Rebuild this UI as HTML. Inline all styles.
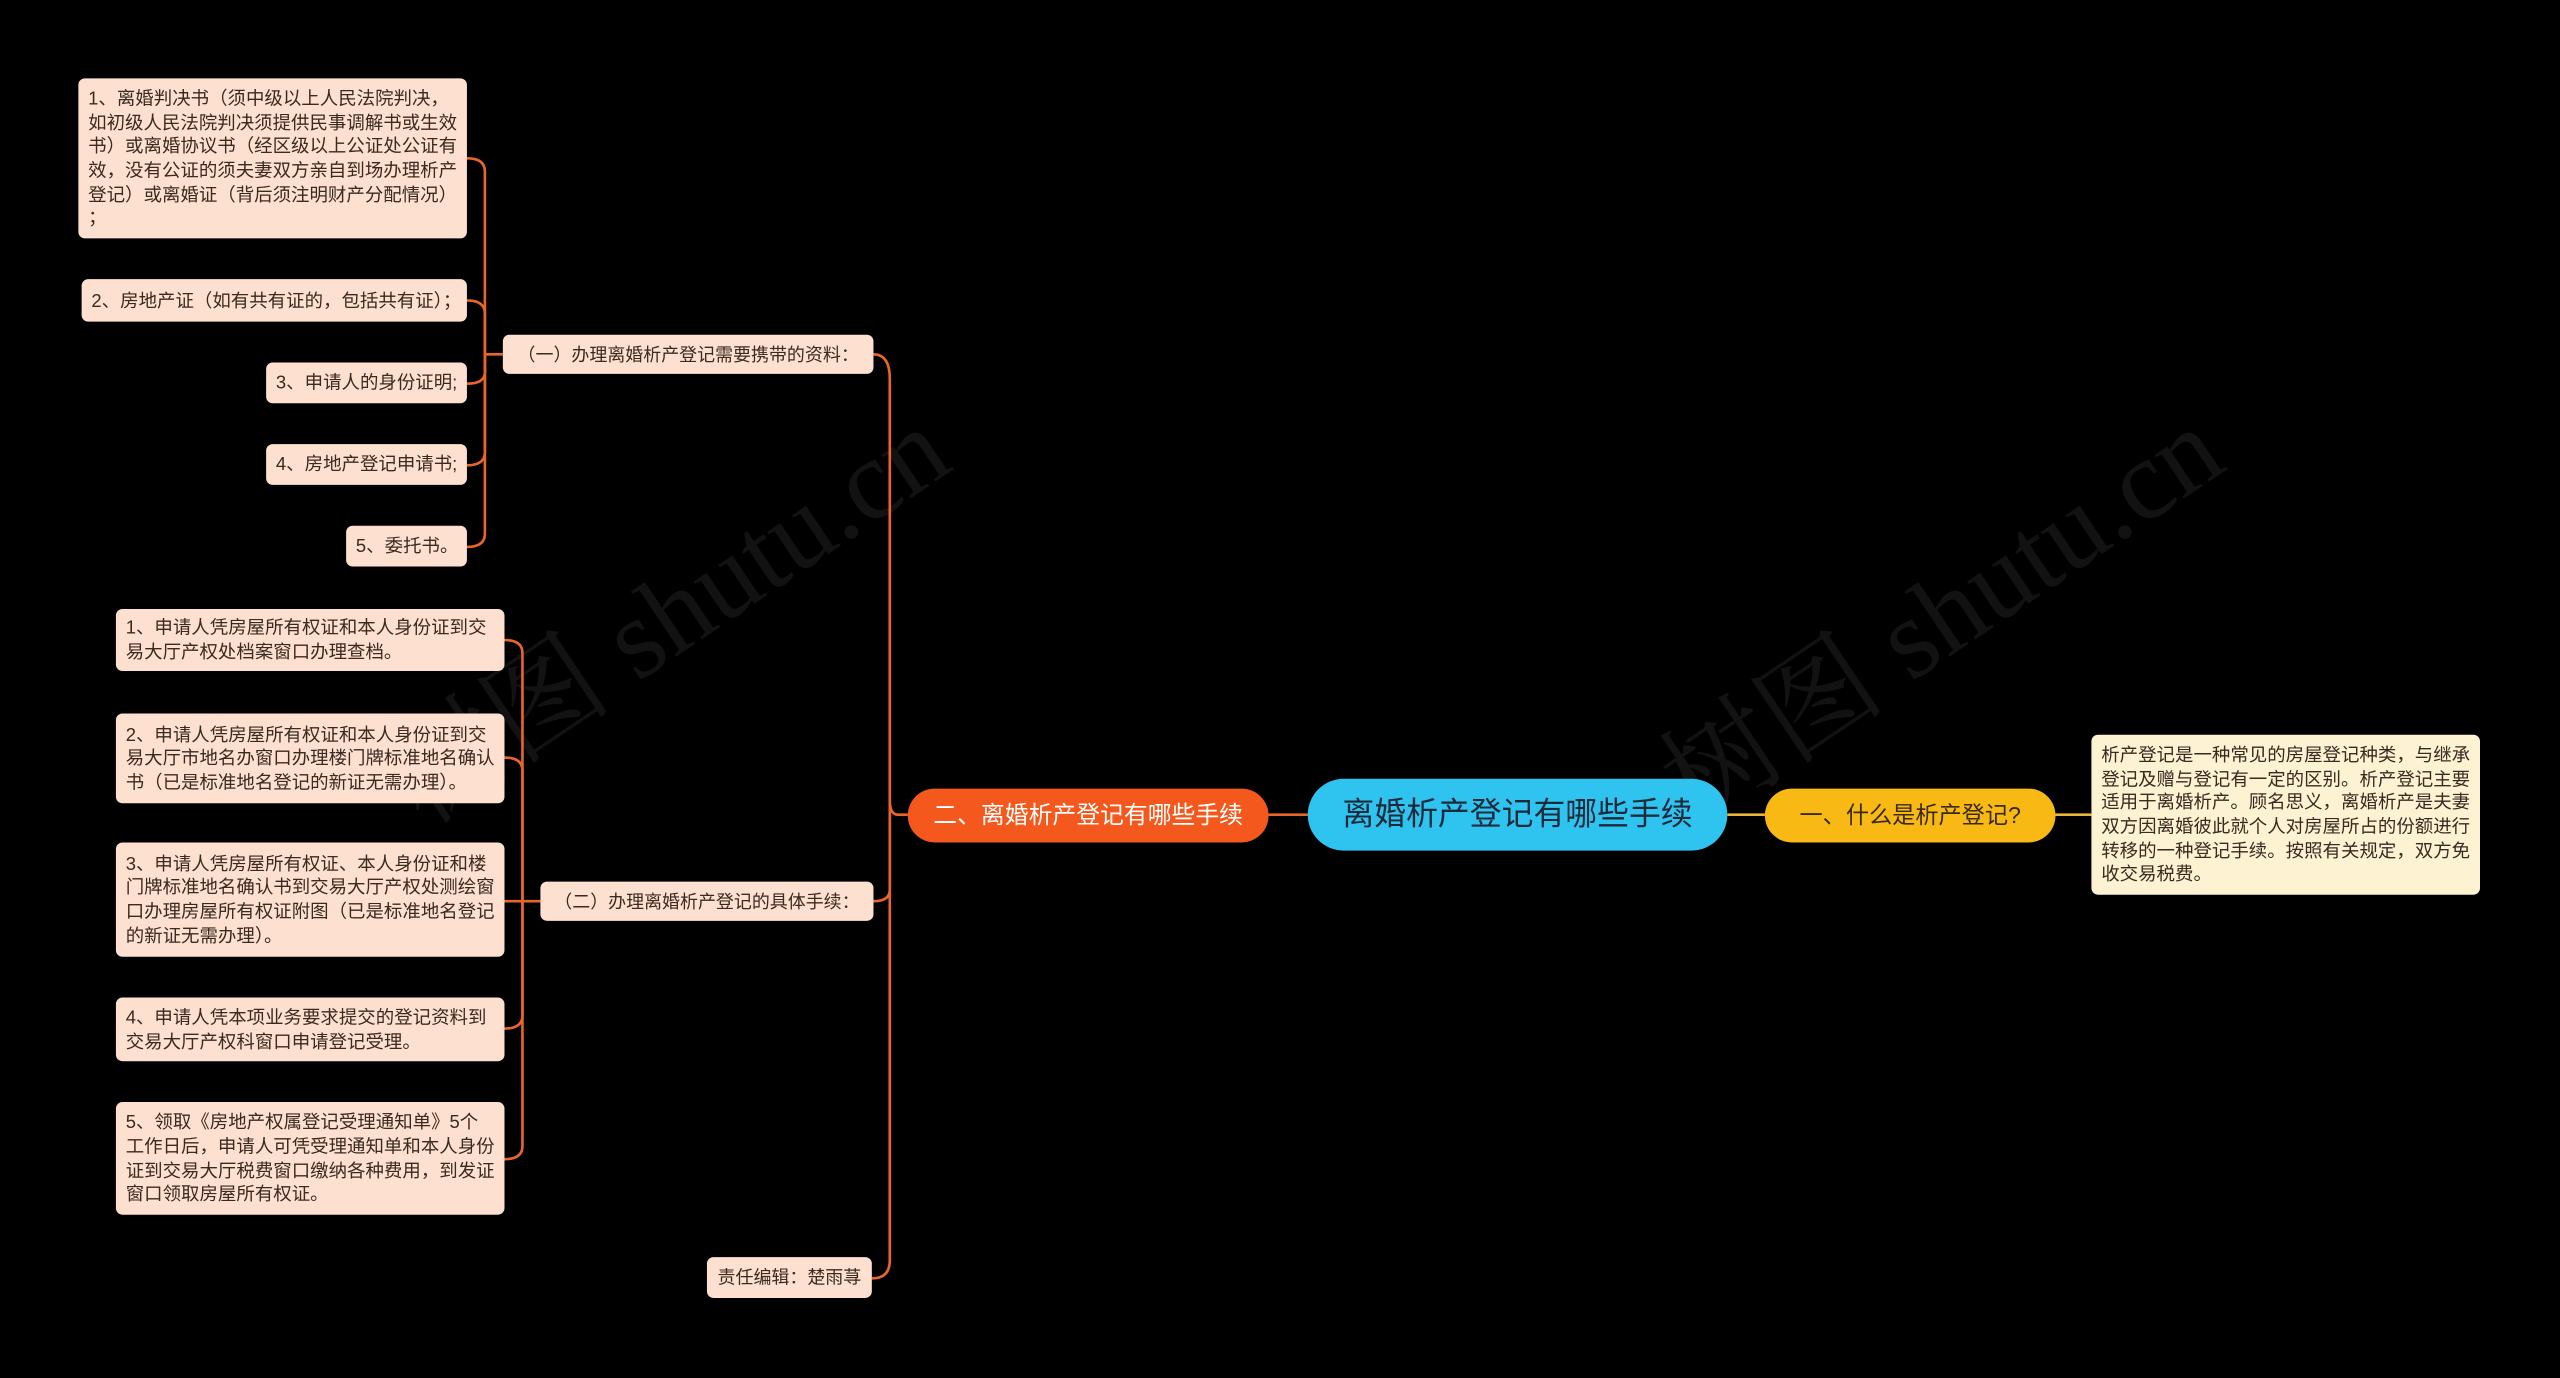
<!DOCTYPE html>
<html><head><meta charset="utf-8"><style>
html,body{margin:0;padding:0;background:#000;width:2560px;height:1378px;overflow:hidden}
#w{position:absolute;left:0;top:0;width:1568px;height:844px;overflow:hidden;transform:scale(1.632653);transform-origin:0 0;font-family:"Liberation Sans","Noto Sans CJK SC",sans-serif}
.b{position:absolute;box-sizing:border-box;background:#fde0cf;color:#3a2a20;font-size:11.3px;line-height:14.6px;border-radius:4px;padding:2px 6px 0 6px;white-space:nowrap;display:flex;align-items:center}
.r{border-radius:22px;justify-content:center;padding-top:1px}
svg{position:absolute;left:0;top:0}
.wm{position:absolute;color:#121212;font-size:70px;font-family:"Liberation Serif","Noto Serif CJK SC",serif;white-space:nowrap;transform:rotate(-34deg);transform-origin:0 0}
</style></head><body><div id="w">
<div class="wm" style="left:215px;top:440px">树图 shutu.cn</div>
<div class="wm" style="left:995px;top:440px">树图 shutu.cn</div>
<svg width="1568" height="844" fill="none">
<g stroke="#e8662a" stroke-width="1.6">
<path d="M556,499 H550 Q545,499 545,490 V232 Q545,217 535,217"/>
<path d="M545,490 V545 Q545,552 535,552"/>
<path d="M545,499 V772 Q545,783 534,783"/>
<path d="M777,499 H801"/>
<g>
<path d="M308,217 H297"/>
<path d="M297,217 V105 Q297,97 286,97"/>
<path d="M297,217 V192 Q297,184 286,184"/>
<path d="M297,217 V228 Q297,235 286,235"/>
<path d="M297,217 V277 Q297,285 286,285"/>
<path d="M297,217 V327 Q297,335 286,335"/>
</g>
<g>
<path d="M331,552 H320"/>
<path d="M320,552 V400 Q320,392 309,392"/>
<path d="M320,552 V472 Q320,464 309,464"/>
<path d="M320,552 H309"/>
<path d="M320,552 V622 Q320,630 309,630"/>
<path d="M320,552 V702 Q320,710 309,710"/>
</g>
</g>
<g stroke="#e8b43a" stroke-width="1.6">
<path d="M1058,499 H1081"/><path d="M1259,499 H1281"/>
</g>
</svg>

<div class="b r" style="left:801px;top:477px;width:257px;height:44px;background:#2fc3f0;color:#1c2a3a;font-size:19.5px">离婚析产登记有哪些手续</div>
<div class="b r" style="left:556px;top:483px;width:221px;height:33px;background:#f4581c;color:#fff;font-size:14.6px">二、离婚析产登记有哪些手续</div>
<div class="b r" style="left:1081px;top:483px;width:178px;height:33px;background:#f8b914;color:#3a2a10;font-size:14.2px">一、什么是析产登记?</div>
<div class="b" style="left:1281px;top:450px;width:238px;height:98px;background:#fdf3d3">析产登记是一种常见的房屋登记种类，与继承<br>登记及赠与登记有一定的区别。析产登记主要<br>适用于离婚析产。顾名思义，离婚析产是夫妻<br>双方因离婚彼此就个人对房屋所占的份额进行<br>转移的一种登记手续。按照有关规定，双方免<br>收交易税费。</div>

<div class="b" style="left:308px;top:205px;width:227px;height:24px;font-size:11px;justify-content:center">（一）办理离婚析产登记需要携带的资料：</div>
<div class="b" style="left:331px;top:540px;width:204px;height:24px;font-size:11px;justify-content:center">（二）办理离婚析产登记的具体手续：</div>
<div class="b" style="left:433px;top:770px;width:101px;height:25px;font-size:11px;justify-content:center">责任编辑：楚雨荨</div>

<div class="b" style="left:48px;top:48px;width:238px;height:98px">1、离婚判决书（须中级以上人民法院判决，<br>如初级人民法院判决须提供民事调解书或生效<br>书）或离婚协议书（经区级以上公证处公证有<br>效，没有公证的须夫妻双方亲自到场办理析产<br>登记）或离婚证（背后须注明财产分配情况）<br>；</div>
<div class="b" style="left:50px;top:171px;width:236px;height:26px">2、房地产证（如有共有证的，包括共有证）；</div>
<div class="b" style="left:163px;top:222px;width:123px;height:25px">3、申请人的身份证明;</div>
<div class="b" style="left:163px;top:272px;width:123px;height:25px">4、房地产登记申请书;</div>
<div class="b" style="left:212px;top:322px;width:74px;height:25px">5、委托书。</div>

<div class="b" style="left:71px;top:373px;width:238px;height:38px">1、申请人凭房屋所有权证和本人身份证到交<br>易大厅产权处档案窗口办理查档。</div>
<div class="b" style="left:71px;top:437px;width:238px;height:55px">2、申请人凭房屋所有权证和本人身份证到交<br>易大厅市地名办窗口办理楼门牌标准地名确认<br>书（已是标准地名登记的新证无需办理）。</div>
<div class="b" style="left:71px;top:516px;width:238px;height:70px">3、申请人凭房屋所有权证、本人身份证和楼<br>门牌标准地名确认书到交易大厅产权处测绘窗<br>口办理房屋所有权证附图（已是标准地名登记<br>的新证无需办理）。</div>
<div class="b" style="left:71px;top:611px;width:238px;height:39px">4、申请人凭本项业务要求提交的登记资料到<br>交易大厅产权科窗口申请登记受理。</div>
<div class="b" style="left:71px;top:675px;width:238px;height:69px">5、领取《房地产权属登记受理通知单》5个<br>工作日后，申请人可凭受理通知单和本人身份<br>证到交易大厅税费窗口缴纳各种费用，到发证<br>窗口领取房屋所有权证。</div>
</div></body></html>
